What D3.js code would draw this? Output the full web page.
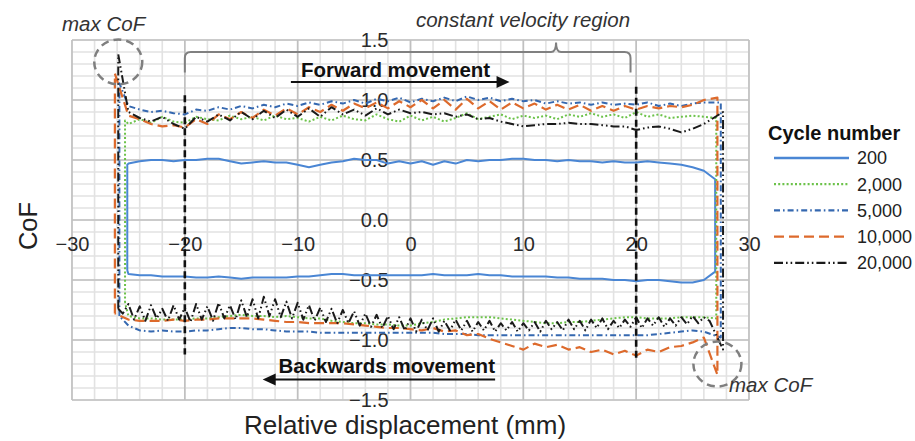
<!DOCTYPE html>
<html><head><meta charset="utf-8">
<script src="https://cdn.jsdelivr.net/npm/d3@7"></script>
<style>
body{margin:0;background:#fff;}
svg{display:block;font-family:"Liberation Sans",Arial,sans-serif;}
</style>
</head><body>
<svg id="chart" width="915" height="441"></svg>
<script>
// ---------- data ----------
const cycles = ["200", "2,000", "5,000", "10,000", "20,000"];
const xTicks = [-30, -20, -10, 0, 10, 20, 30];
const yTicks = [-1.5, -1.0, -0.5, 0.0, 0.5, 1.0, 1.5];
const xSample = d3.range(-25, 26.5, 1);      // -25 .. 26 mm
const xSampleFine = d3.range(-25.5, 26.75, 0.5); // -25.5 .. 26.5 mm

// forward stroke (upper branch), CoF at xSample
const top200 = [0.47,0.49,0.50,0.50,0.49,0.50,0.50,0.51,0.51,0.49,
  0.47,0.48,0.49,0.48,0.48,0.46,0.44,0.46,0.48,0.49,
  0.51,0.50,0.50,0.47,0.49,0.47,0.49,0.46,0.49,0.47,
  0.50,0.49,0.50,0.50,0.51,0.51,0.50,0.50,0.49,0.50,
  0.49,0.49,0.48,0.49,0.48,0.48,0.49,0.48,0.47,0.46,
  0.44,0.41];
const top2000 = [0.80,0.84,0.81,0.86,0.82,0.81,0.86,0.84,0.83,0.87,
  0.84,0.86,0.83,0.87,0.84,0.85,0.82,0.86,0.83,0.87,
  0.84,0.83,0.88,0.84,0.82,0.87,0.83,0.86,0.82,0.85,
  0.89,0.84,0.86,0.88,0.84,0.87,0.85,0.87,0.84,0.88,
  0.86,0.89,0.86,0.88,0.85,0.90,0.86,0.88,0.85,0.86,
  0.87,0.86];
const top5000 = [0.95,0.92,0.90,0.91,0.89,0.88,0.92,0.91,0.94,0.92,
  0.95,0.93,0.96,0.94,0.97,0.95,0.98,0.96,0.99,0.97,
  1.00,0.97,1.01,0.99,1.02,0.98,1.01,0.99,1.02,0.99,
  1.03,1.00,1.02,0.99,1.01,0.99,1.00,0.97,0.99,0.97,
  0.98,0.96,0.98,0.96,0.97,0.96,0.98,0.95,0.97,0.95,
  0.97,0.98];
const top10000 = [0.87,0.84,0.80,0.78,0.79,0.77,0.84,0.80,0.88,0.84,
  0.90,0.85,0.92,0.87,0.93,0.88,0.94,0.90,0.96,0.91,
  0.97,0.93,0.98,0.93,0.99,0.94,1.00,0.93,1.00,0.92,
  1.01,0.93,0.99,0.92,0.98,0.93,0.97,0.92,0.96,0.92,
  0.96,0.91,0.95,0.91,0.95,0.92,0.95,0.93,0.95,0.94,
  0.96,1.00];
const top20000 = [0.90,0.85,0.82,0.86,0.80,0.76,0.86,0.82,0.88,0.83,
  0.90,0.84,0.91,0.85,0.92,0.86,0.93,0.86,0.94,0.88,
  0.92,0.87,0.93,0.88,0.92,0.89,0.90,0.88,0.89,0.86,
  0.88,0.84,0.85,0.82,0.80,0.78,0.79,0.80,0.80,0.81,
  0.80,0.80,0.79,0.78,0.78,0.75,0.77,0.78,0.76,0.73,
  0.76,0.80];

// backward stroke (lower branch)
const bot200 = [-0.45,-0.46,-0.46,-0.47,-0.47,-0.47,-0.48,-0.48,-0.47,-0.48,
  -0.49,-0.48,-0.48,-0.48,-0.48,-0.47,-0.47,-0.46,-0.45,-0.45,
  -0.46,-0.46,-0.46,-0.46,-0.46,-0.46,-0.46,-0.45,-0.46,-0.46,
  -0.46,-0.45,-0.46,-0.46,-0.47,-0.47,-0.47,-0.47,-0.48,-0.48,
  -0.49,-0.49,-0.49,-0.50,-0.50,-0.51,-0.50,-0.50,-0.51,-0.52,
  -0.52,-0.50];
const bot2000 = [-0.80,-0.82,-0.82,-0.83,-0.83,-0.83,-0.82,-0.82,-0.81,-0.80,
  -0.79,-0.80,-0.80,-0.81,-0.80,-0.81,-0.82,-0.82,-0.84,-0.85,
  -0.86,-0.86,-0.87,-0.87,-0.88,-0.88,-0.86,-0.85,-0.83,-0.82,
  -0.81,-0.81,-0.81,-0.82,-0.83,-0.84,-0.85,-0.86,-0.86,-0.85,
  -0.85,-0.84,-0.83,-0.82,-0.81,-0.81,-0.82,-0.82,-0.82,-0.81,
  -0.81,-0.81];
const bot5000 = [-0.88,-0.92,-0.93,-0.92,-0.93,-0.93,-0.92,-0.92,-0.91,-0.90,
  -0.90,-0.91,-0.91,-0.92,-0.93,-0.93,-0.93,-0.94,-0.94,-0.94,
  -0.94,-0.94,-0.94,-0.94,-0.94,-0.94,-0.94,-0.94,-0.95,-0.95,
  -0.95,-0.96,-0.96,-0.96,-0.96,-0.96,-0.96,-0.96,-0.96,-0.96,
  -0.96,-0.96,-0.96,-0.96,-0.96,-0.96,-0.96,-0.95,-0.94,-0.93,
  -0.92,-0.93];
const bot10000 = [-0.83,-0.84,-0.84,-0.84,-0.83,-0.84,-0.83,-0.83,-0.82,-0.82,
  -0.82,-0.82,-0.83,-0.84,-0.85,-0.85,-0.86,-0.86,-0.86,-0.86,
  -0.87,-0.88,-0.89,-0.90,-0.90,-0.91,-0.92,-0.90,-0.93,-0.92,
  -0.96,-0.95,-0.99,-1.02,-1.05,-1.08,-1.03,-1.06,-1.04,-1.08,
  -1.06,-1.10,-1.08,-1.12,-1.09,-1.13,-1.08,-1.10,-1.06,-1.05,
  -1.02,-0.98];
const bot20000 = [-0.78,-0.70,-0.83,-0.72,-0.84,-0.71,-0.82,-0.74,-0.84,-0.71,
  -0.83,-0.73,-0.85,-0.70,-0.83,-0.72,-0.84,-0.69,-0.82,-0.71,
  -0.83,-0.67,-0.81,-0.66,-0.82,-0.64,-0.80,-0.66,-0.81,-0.68,
  -0.82,-0.69,-0.83,-0.71,-0.84,-0.73,-0.85,-0.74,-0.86,-0.75,
  -0.86,-0.76,-0.88,-0.78,-0.89,-0.79,-0.90,-0.80,-0.91,-0.81,
  -0.92,-0.82,-0.93,-0.83,-0.92,-0.82,-0.93,-0.84,-0.92,-0.83,
  -0.92,-0.84,-0.93,-0.85,-0.92,-0.84,-0.93,-0.86,-0.92,-0.85,
  -0.93,-0.86,-0.92,-0.85,-0.93,-0.84,-0.91,-0.85,-0.92,-0.83,
  -0.91,-0.84,-0.92,-0.83,-0.90,-0.82,-0.91,-0.84,-0.90,-0.83,
  -0.89,-0.81,-0.90,-0.82,-0.88,-0.81,-0.89,-0.82,-0.88,-0.81,
  -0.87,-0.80,-0.86,-0.81,-0.84];

// reversal points of each loop
const leftX    = [-25.1, -25.3, -25.8, -26.2, -25.9];
const leftPeak = [0.46, 0.83, 1.14, 1.22, 1.38];
const leftFoot = [-0.42, -0.69, -0.80, -0.78, -0.74];
const rightX   = [27.0, 27.1, 27.5, 27.2, 27.7];
const rightTop = [0.34, 0.85, 0.98, 1.02, 0.90];
const rightDip = [-0.43, -0.82, -0.98, -1.29, -1.08];

const topSeries = [top200, top2000, top5000, top10000, top20000];
const botSeries = [bot200, bot2000, bot5000, bot10000, bot20000];
const botX = [xSample, xSample, xSample, xSample, xSampleFine];

const regionBounds = [-20, 20];

// ---------- styles ----------
const colors = ["#4a86d4", "#6cc24a", "#3568b0", "#dd6a2c", "#1a1a1a"];
const dashes = [null, "2,2.2", "6,3,1.6,3", "10,5", "9,3,1.6,3,1.6,3"];
const widths = [2, 2, 2, 2.2, 2];

// ---------- scales ----------
const svg = d3.select("#chart");
const x = d3.scaleLinear().domain([-30, 30]).range([72, 749]);
const y = d3.scaleLinear().domain([-1.5, 1.5]).range([400, 40]);

// grid
const grid = svg.append("g");
grid.selectAll(".vmin").data(d3.range(-30, 30.01, 2)).join("line")
  .attr("x1", d => x(d)).attr("x2", d => x(d)).attr("y1", y(1.5)).attr("y2", y(-1.5))
  .attr("stroke", "#e2e2e2").attr("stroke-width", 1.6);
grid.selectAll(".hmin").data(d3.range(-15, 15.01, 1).map(v => v / 10)).join("line")
  .attr("y1", d => y(d)).attr("y2", d => y(d)).attr("x1", x(-30)).attr("x2", x(30))
  .attr("stroke", "#e2e2e2").attr("stroke-width", 1.6);
grid.selectAll(".vmaj").data(xTicks).join("line")
  .attr("x1", d => x(d)).attr("x2", d => x(d)).attr("y1", y(1.5)).attr("y2", y(-1.5))
  .attr("stroke", "#c0c0c0").attr("stroke-width", 1.6);
grid.selectAll(".hmaj").data(yTicks).join("line")
  .attr("y1", d => y(d)).attr("y2", d => y(d)).attr("x1", x(-30)).attr("x2", x(30))
  .attr("stroke", "#c0c0c0").attr("stroke-width", 1.6);

// axes (crossing at zero)
const fmtY = d3.format(".1f");
svg.append("g").attr("transform", `translate(${x(0)},0)`)
  .call(d3.axisLeft(y).tickValues(yTicks).tickSize(0).tickPadding(22).tickFormat(fmtY))
  .call(g => g.select(".domain").remove())
  .attr("font-family", null).attr("font-size", null)
  .selectAll("text").attr("font-size", 20).attr("fill", "#2a2a2a");
svg.append("g").attr("transform", `translate(0,${y(0)})`)
  .call(d3.axisBottom(x).tickValues(xTicks).tickSize(0).tickPadding(17).tickFormat(d3.format("d")))
  .call(g => g.select(".domain").remove())
  .attr("font-family", null).attr("font-size", null)
  .selectAll("text").attr("font-size", 20).attr("fill", "#2a2a2a");

// axis titles
svg.append("text").attr("x", 405).attr("y", 434).attr("text-anchor", "middle")
  .attr("font-size", 26).attr("fill", "#222").text("Relative displacement (mm)");
svg.append("text").attr("transform", "translate(37,226) rotate(-90)").attr("text-anchor", "middle")
  .attr("font-size", 25.5).attr("fill", "#222").text("CoF");

// ---------- loops ----------
const line = d3.line().x(d => x(d[0])).y(d => y(d[1]));
cycles.forEach((c, i) => {
  const pts = [];
  pts.push([leftX[i], leftFoot[i]]);
  pts.push([leftX[i], leftPeak[i]]);
  xSample.forEach((xv, j) => pts.push([xv, topSeries[i][j]]));
  pts.push([rightX[i], rightTop[i]]);
  pts.push([rightX[i], rightDip[i]]);
  for (let j = botX[i].length - 1; j >= 0; j--) pts.push([botX[i][j], botSeries[i][j]]);
  pts.push([leftX[i], leftFoot[i]]);
  svg.append("path").datum(pts).attr("d", line)
    .attr("fill", "none").attr("stroke", colors[i]).attr("stroke-width", widths[i])
    .attr("stroke-dasharray", dashes[i]).attr("stroke-linejoin", "round");
});

// ---------- annotations ----------
svg.append("line").attr("x1", x(regionBounds[0])).attr("x2", x(regionBounds[0]))
  .attr("y1", y(1.04)).attr("y2", y(-1.12))
  .attr("stroke", "#111").attr("stroke-width", 2.6).attr("stroke-dasharray", "7,4");
svg.append("line").attr("x1", x(regionBounds[1])).attr("x2", x(regionBounds[1]))
  .attr("y1", y(1.11)).attr("y2", y(-1.15))
  .attr("stroke", "#111").attr("stroke-width", 2.6).attr("stroke-dasharray", "7,4");

// bracket
const bx0 = x(regionBounds[0]), bx1 = x(19.5), bn = x(12.9);
const byLow = y(1.23), byTop = y(1.40), byN = y(1.48);
svg.append("path")
  .attr("d", `M${bx0},${byLow} L${bx0},${byTop + 6} Q${bx0},${byTop} ${bx0 + 6},${byTop}
     L${bn - 5},${byTop} Q${bn},${byTop} ${bn},${byN} Q${bn},${byTop} ${bn + 5},${byTop}
     L${bx1 - 6},${byTop} Q${bx1},${byTop} ${bx1},${byTop + 6} L${bx1},${byLow}`)
  .attr("fill", "none").attr("stroke", "#808080").attr("stroke-width", 2);
svg.append("text").attr("x", 523).attr("y", 27).attr("text-anchor", "middle")
  .attr("font-size", 20.5).attr("font-style", "italic").attr("fill", "#333").text("constant velocity region");

// movement arrows
const fy = y(1.15);
svg.append("text").attr("x", x(-9.7)).attr("y", fy - 5).attr("font-size", 20.5).attr("font-weight", "bold")
  .attr("fill", "#111").text("Forward movement");
svg.append("line").attr("x1", x(-10.6)).attr("x2", x(8.0)).attr("y1", fy).attr("y2", fy)
  .attr("stroke", "#111").attr("stroke-width", 2);
svg.append("path").attr("d", `M${x(8.6) + 2},${fy} l-13,-6 l0,12 z`).attr("fill", "#111");

const by = y(-1.33);
svg.append("text").attr("x", x(-11.7)).attr("y", by - 7).attr("font-size", 20.5).attr("font-weight", "bold")
  .attr("fill", "#111").text("Backwards movement");
svg.append("line").attr("x1", x(7.5)).attr("x2", x(-12.2)).attr("y1", by).attr("y2", by)
  .attr("stroke", "#111").attr("stroke-width", 2);
svg.append("path").attr("d", `M${x(-13.1)},${by} l13,-6 l0,12 z`).attr("fill", "#111");

// max CoF circles
const circ = [[-25.9, 1.317], [27.2, -1.2]];
circ.forEach(p => {
  svg.append("ellipse").attr("cx", x(p[0])).attr("cy", y(p[1])).attr("rx", 24).attr("ry", 22.5)
    .attr("fill", "none").attr("stroke", "#7f7f7f").attr("stroke-width", 2.5).attr("stroke-dasharray", "8,5");
});
svg.append("text").attr("x", 62).attr("y", 31).attr("font-size", 20.5).attr("font-style", "italic")
  .attr("fill", "#333").text("max CoF");
svg.append("text").attr("x", 729).attr("y", 392).attr("font-size", 20.5).attr("font-style", "italic")
  .attr("fill", "#333").text("max CoF");

// ---------- legend ----------
svg.append("text").attr("x", 768).attr("y", 140).attr("font-size", 20).attr("font-weight", "bold")
  .attr("fill", "#111").text("Cycle number");
const lg = svg.append("g");
cycles.forEach((c, i) => {
  const ly = 158 + i * 26.2;
  lg.append("line").attr("x1", 774).attr("x2", 849).attr("y1", ly).attr("y2", ly)
    .attr("stroke", colors[i]).attr("stroke-width", i === 0 ? 2.4 : 2.2).attr("stroke-dasharray", dashes[i]);
  lg.append("text").attr("x", 857).attr("y", ly).attr("dy", "0.36em").attr("font-size", 18)
    .attr("fill", "#222").text(c);
});
</script>
</body></html>
